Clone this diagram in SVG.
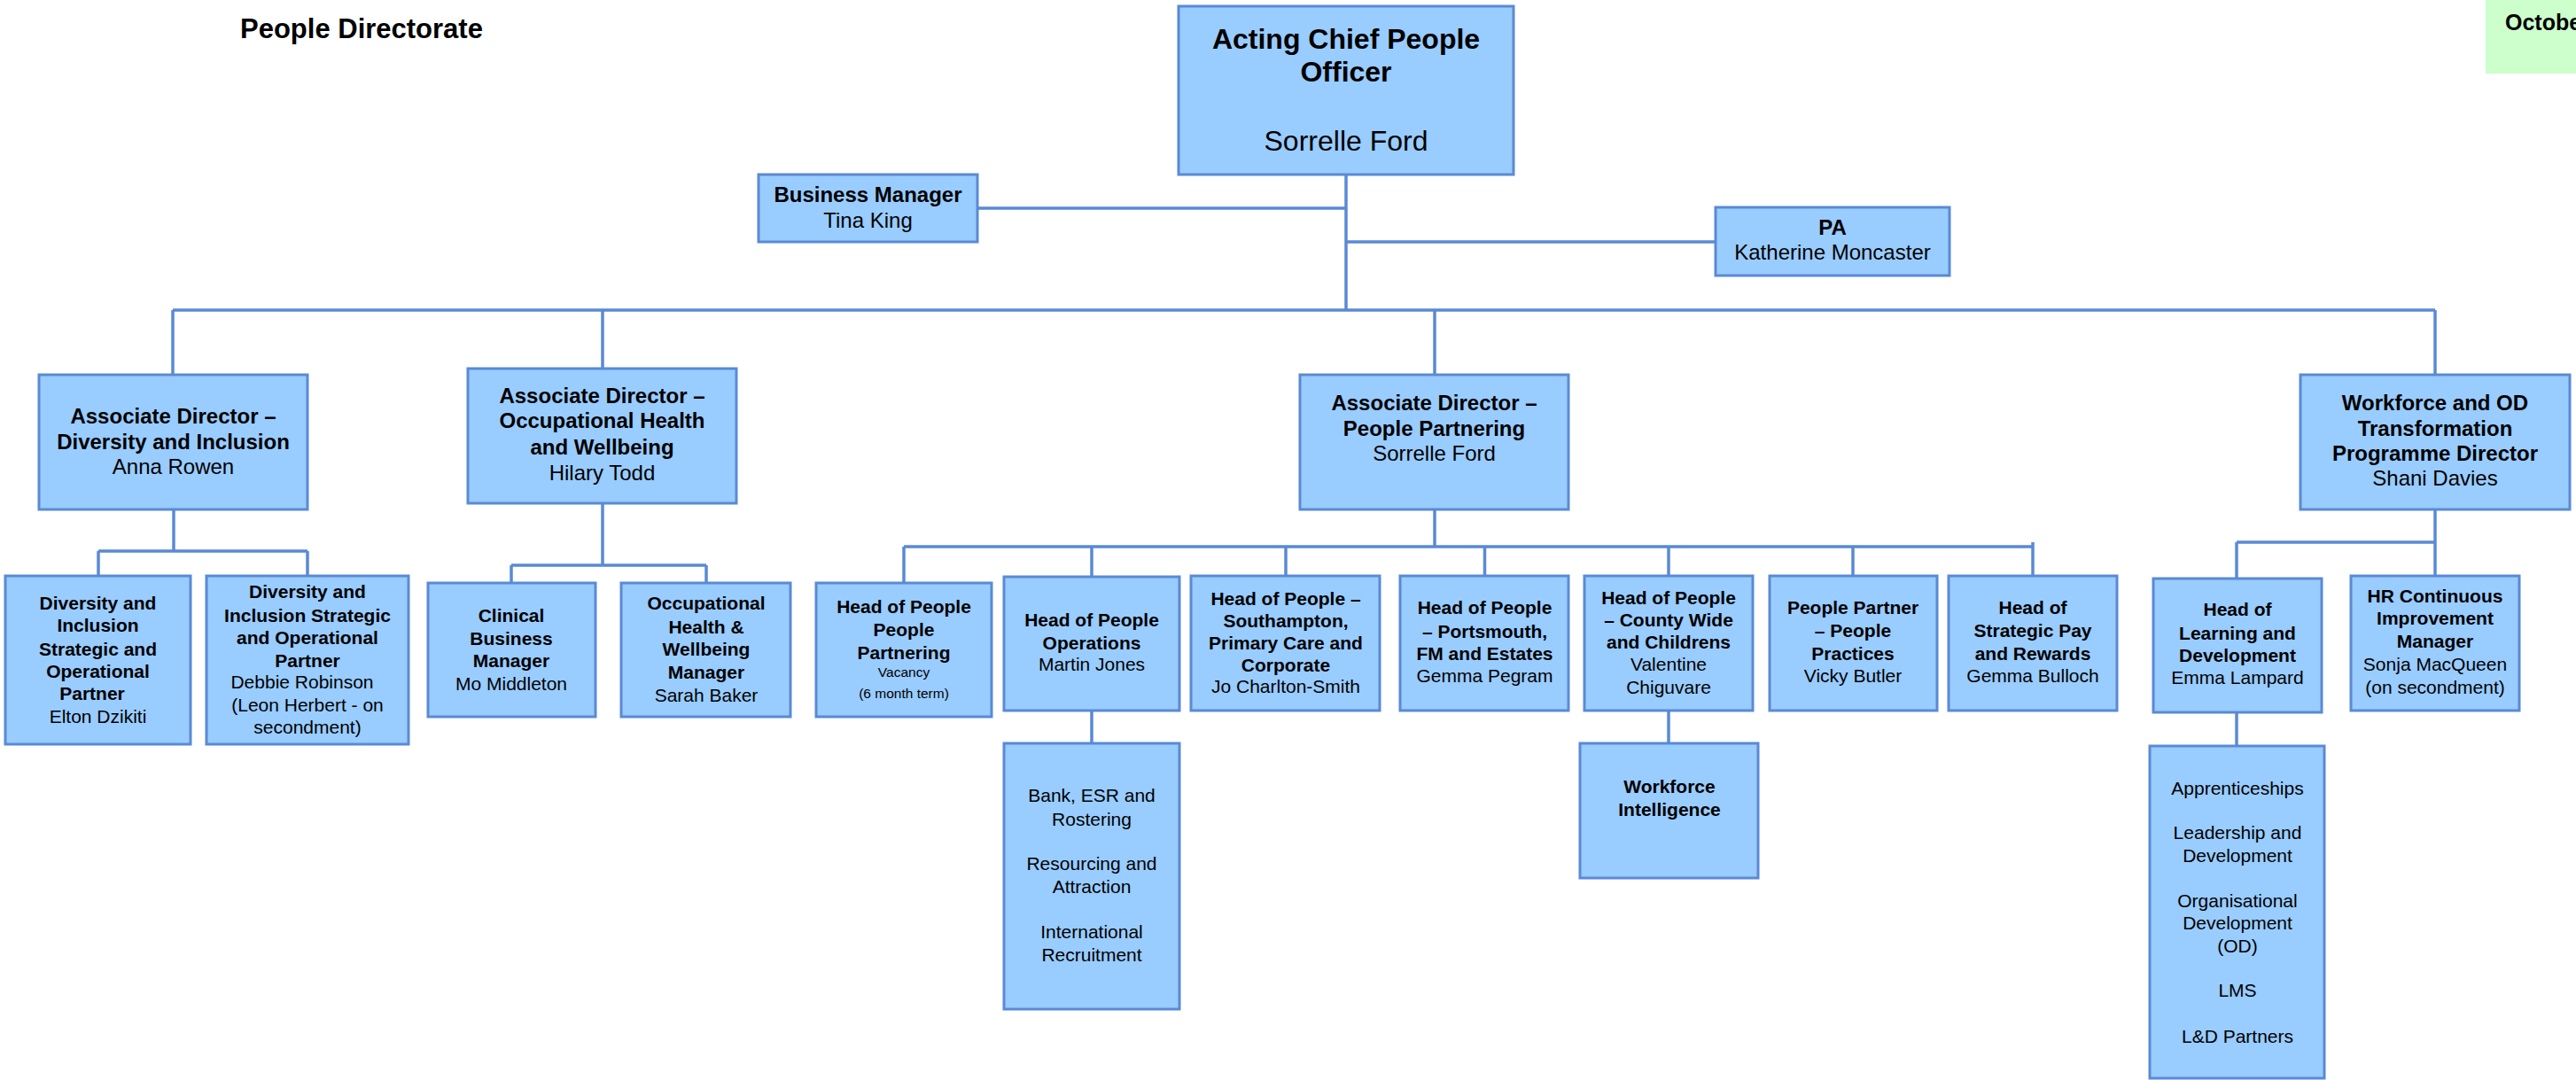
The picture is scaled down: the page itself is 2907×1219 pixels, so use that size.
<svg xmlns="http://www.w3.org/2000/svg" width="2907" height="1219" viewBox="0 0 2907 1219">
<style>
  .box{fill:#99CCFF;stroke:#5A8AD5;stroke-width:3}
  text{font-family:"Liberation Sans",Arial,sans-serif;fill:#000;text-anchor:middle}
  .b{font-weight:bold}
  .s24{font-size:24px}
  .s21{font-size:21px}
  .s32{font-size:32px}
  .conn path{fill:none;stroke:#5A8AD5;stroke-width:3.5}
</style>
<rect width="2907" height="1219" fill="#FFFFFF"/>
<text x="271" y="43" class="b" style="font-size:31px;text-anchor:start">People Directorate</text>
<g id="date-note">
  <rect x="2805" y="0" width="110" height="83" fill="#CCFFCC"/>
  <text x="2827" y="34" class="b" style="font-size:25px;text-anchor:start">October</text>
</g>

<g class="conn" id="connectors">
  <path d="M1519 197V350M1103 235H1519M1519 273H1936"/>
  <path d="M195 350H2748M195 350V423M680 350V416M1619 350V423M2748 350V423"/>
  <path d="M196 575V622M111 622H347M111 622V650M347 622V650"/>
  <path d="M680 568V638M577 638H797M577 638V658M797 638V658"/>
  <path d="M1619 575V617M1020 617H2294M1020 617V658M1232 617V651M1451 617V650M1675.5 617V650M1883 617V650M2091 617V650M2294 612V650"/>
  <path d="M1232 802V839M1883 802V839"/>
  <path d="M2748 575V650M2524 612H2748M2524 612V653M2524 804V842"/>
</g>

<g id="cpo"><rect class="box" x="1330" y="7" width="378" height="190"/>
  <text x="1519" y="55" class="b s32">Acting Chief People</text>
  <text x="1519" y="92" class="b s32">Officer</text>
  <text x="1519" y="170" class="s32">Sorrelle Ford</text></g>

<g id="business-manager"><rect class="box" x="856" y="197" width="247" height="76"/>
  <text x="979.5" y="228" class="b s24">Business Manager</text>
  <text x="979.5" y="257" class="s24">Tina King</text></g>

<g id="pa"><rect class="box" x="1936" y="234" width="264" height="77"/>
  <text x="2068" y="265" class="b s24">PA</text>
  <text x="2068" y="293" class="s24">Katherine Moncaster</text></g>

<g id="ad-di"><rect class="box" x="44" y="423" width="303" height="152"/>
  <text x="195.5" y="478" class="b s24">Associate Director –</text>
  <text x="195.5" y="507" class="b s24">Diversity and Inclusion</text>
  <text x="195.5" y="535" class="s24">Anna Rowen</text></g>

<g id="ad-oh"><rect class="box" x="528" y="416" width="303" height="152"/>
  <text x="679.5" y="455" class="b s24">Associate Director –</text>
  <text x="679.5" y="483" class="b s24">Occupational Health</text>
  <text x="679.5" y="513" class="b s24">and Wellbeing</text>
  <text x="679.5" y="542" class="s24">Hilary Todd</text></g>

<g id="ad-pp"><rect class="box" x="1467" y="423" width="303" height="152"/>
  <text x="1618.5" y="463" class="b s24">Associate Director –</text>
  <text x="1618.5" y="492" class="b s24">People Partnering</text>
  <text x="1618.5" y="520" class="s24">Sorrelle Ford</text></g>

<g id="wod"><rect class="box" x="2596" y="423" width="304" height="152"/>
  <text x="2748" y="463" class="b s24">Workforce and OD</text>
  <text x="2748" y="492" class="b s24">Transformation</text>
  <text x="2748" y="520" class="b s24">Programme Director</text>
  <text x="2748" y="548" class="s24">Shani Davies</text></g>

<g id="di-sop1"><rect class="box" x="6" y="650" width="209" height="190"/>
  <text x="110.5" y="688" class="b s21">Diversity and</text>
  <text x="110.5" y="713" class="b s21">Inclusion</text>
  <text x="110.5" y="740" class="b s21">Strategic and</text>
  <text x="110.5" y="765" class="b s21">Operational</text>
  <text x="104" y="790" class="b s21">Partner</text>
  <text x="110.5" y="816" class="s21">Elton Dzikiti</text></g>

<g id="di-sop2"><rect class="box" x="233" y="650" width="228" height="190"/>
  <text x="347" y="675" class="b s21">Diversity and</text>
  <text x="347" y="702" class="b s21">Inclusion Strategic</text>
  <text x="347" y="727" class="b s21">and Operational</text>
  <text x="347" y="753" class="b s21">Partner</text>
  <text x="341" y="777" class="s21">Debbie Robinson</text>
  <text x="347" y="803" class="s21">(Leon Herbert - on</text>
  <text x="347" y="828" class="s21">secondment)</text></g>

<g id="clinical-bm"><rect class="box" x="483" y="658" width="189" height="151"/>
  <text x="577" y="702" class="b s21">Clinical</text>
  <text x="577" y="728" class="b s21">Business</text>
  <text x="577" y="753" class="b s21">Manager</text>
  <text x="577" y="779" class="s21">Mo Middleton</text></g>

<g id="ohw-manager"><rect class="box" x="701" y="658" width="191" height="151"/>
  <text x="797" y="688" class="b s21">Occupational</text>
  <text x="797" y="715" class="b s21">Health &amp;</text>
  <text x="797" y="740" class="b s21">Wellbeing</text>
  <text x="797" y="766" class="b s21">Manager</text>
  <text x="797" y="792" class="s21">Sarah Baker</text></g>

<g id="hop-pp"><rect class="box" x="921" y="658" width="198" height="151"/>
  <text x="1020" y="692" class="b s21">Head of People</text>
  <text x="1020" y="718" class="b s21">People</text>
  <text x="1020" y="744" class="b s21">Partnering</text>
  <text x="1020" y="764" style="font-size:15.5px">Vacancy</text>
  <text x="1020" y="788" style="font-size:15.5px">(6 month term)</text></g>

<g id="hop-ops"><rect class="box" x="1133" y="651" width="198" height="151"/>
  <text x="1232" y="707" class="b s21">Head of People</text>
  <text x="1232" y="733" class="b s21">Operations</text>
  <text x="1232" y="757" class="s21">Martin Jones</text></g>

<g id="hop-southampton"><rect class="box" x="1344" y="650" width="213" height="152"/>
  <text x="1451" y="683" class="b s21">Head of People –</text>
  <text x="1451" y="708" class="b s21">Southampton,</text>
  <text x="1451" y="733" class="b s21">Primary Care and</text>
  <text x="1451" y="758" class="b s21">Corporate</text>
  <text x="1451" y="782" class="s21">Jo Charlton-Smith</text></g>

<g id="hop-portsmouth"><rect class="box" x="1580" y="650" width="190" height="152"/>
  <text x="1675.5" y="693" class="b s21">Head of People</text>
  <text x="1675.5" y="720" class="b s21">– Portsmouth,</text>
  <text x="1675.5" y="745" class="b s21">FM and Estates</text>
  <text x="1675.5" y="770" class="s21">Gemma Pegram</text></g>

<g id="hop-county"><rect class="box" x="1788" y="650" width="190" height="152"/>
  <text x="1883" y="682" class="b s21">Head of People</text>
  <text x="1883" y="707" class="b s21">– County Wide</text>
  <text x="1883" y="732" class="b s21">and Childrens</text>
  <text x="1883" y="757" class="s21">Valentine</text>
  <text x="1883" y="783" class="s21">Chiguvare</text></g>

<g id="people-partner"><rect class="box" x="1997" y="650" width="189" height="152"/>
  <text x="2091" y="693" class="b s21">People Partner</text>
  <text x="2091" y="719" class="b s21">– People</text>
  <text x="2091" y="745" class="b s21">Practices</text>
  <text x="2091" y="770" class="s21">Vicky Butler</text></g>

<g id="strategic-pay"><rect class="box" x="2199" y="650" width="190" height="152"/>
  <text x="2294" y="693" class="b s21">Head of</text>
  <text x="2294" y="719" class="b s21">Strategic Pay</text>
  <text x="2294" y="745" class="b s21">and Rewards</text>
  <text x="2294" y="770" class="s21">Gemma Bulloch</text></g>

<g id="hold"><rect class="box" x="2430" y="653" width="190" height="151"/>
  <text x="2525" y="695" class="b s21">Head of</text>
  <text x="2525" y="722" class="b s21">Learning and</text>
  <text x="2525" y="747" class="b s21">Development</text>
  <text x="2525" y="772" class="s21">Emma Lampard</text></g>

<g id="hr-ci"><rect class="box" x="2653" y="650" width="190" height="152"/>
  <text x="2748" y="680" class="b s21">HR Continuous</text>
  <text x="2748" y="705" class="b s21">Improvement</text>
  <text x="2748" y="731" class="b s21">Manager</text>
  <text x="2748" y="757" class="s21">Sonja MacQueen</text>
  <text x="2748" y="783" class="s21">(on secondment)</text></g>

<g id="ops-teams"><rect class="box" x="1133" y="839" width="198" height="300"/>
  <text x="1232" y="905" class="s21">Bank, ESR and</text>
  <text x="1232" y="932" class="s21">Rostering</text>
  <text x="1232" y="982" class="s21">Resourcing and</text>
  <text x="1232" y="1008" class="s21">Attraction</text>
  <text x="1232" y="1059" class="s21">International</text>
  <text x="1232" y="1085" class="s21">Recruitment</text></g>

<g id="workforce-intelligence"><rect class="box" x="1783" y="839" width="201" height="152"/>
  <text x="1884" y="895" class="b s21">Workforce</text>
  <text x="1884" y="921" class="b s21">Intelligence</text></g>

<g id="ld-teams"><rect class="box" x="2426" y="842" width="197" height="375"/>
  <text x="2525" y="897" class="s21">Apprenticeships</text>
  <text x="2525" y="947" class="s21">Leadership and</text>
  <text x="2525" y="973" class="s21">Development</text>
  <text x="2525" y="1024" class="s21">Organisational</text>
  <text x="2525" y="1049" class="s21">Development</text>
  <text x="2525" y="1075" class="s21">(OD)</text>
  <text x="2525" y="1125" class="s21">LMS</text>
  <text x="2525" y="1177" class="s21">L&amp;D Partners</text></g>
</svg>
